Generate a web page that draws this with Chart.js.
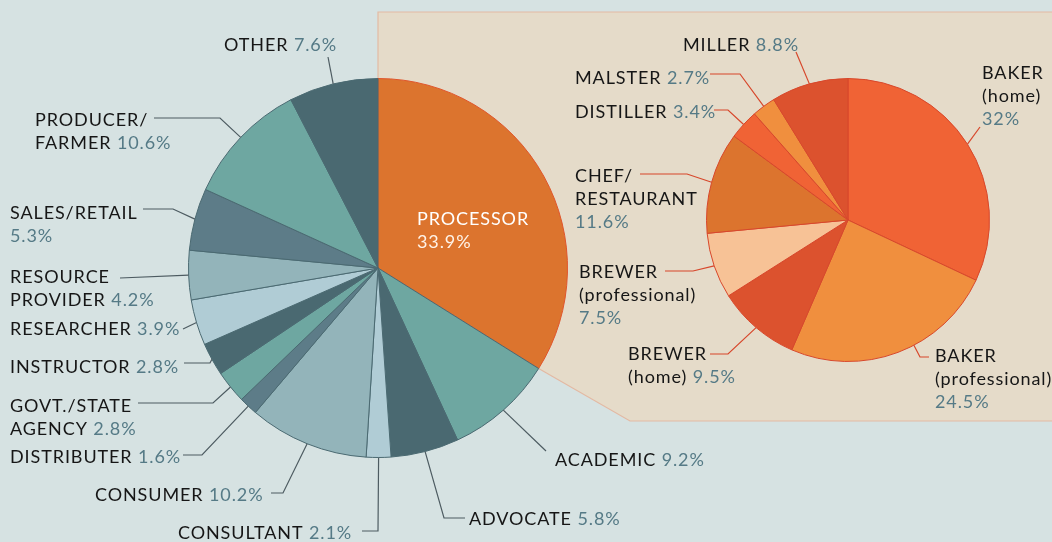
<!DOCTYPE html>
<html>
<head>
<meta charset="utf-8">
<script src="https://cdn.jsdelivr.net/npm/chart.js@4.4.1/dist/chart.umd.min.js"></script>
<style>
  html, body { margin:0; padding:0; background:#d6e2e2; }
  #wrap { position:relative; width:1052px; height:542px; overflow:hidden; }
  #wrap canvas { position:absolute; left:0; top:0; }
</style>
</head>
<body>
<div id="wrap">
  <canvas id="mainPie" width="1052" height="542"></canvas>
  <canvas id="subPie" width="1052" height="542"></canvas>
</div>
<script>
// main pie: who answered
const mainLabels = ["PROCESSOR", "ACADEMIC", "ADVOCATE", "CONSULTANT", "CONSUMER", "DISTRIBUTER",
  "GOVT./STATE\nAGENCY", "INSTRUCTOR", "RESEARCHER", "RESOURCE\nPROVIDER", "SALES/RETAIL", "PRODUCER/\nFARMER", "OTHER"];
const mainValues = [33.9, 9.2, 5.8, 2.1, 10.2, 1.6, 2.8, 2.8, 3.9, 4.2, 5.3, 10.6, 7.6];
const mainValueText = ["33.9%", "9.2%", "5.8%", "2.1%", "10.2%", "1.6%", "2.8%", "2.8%", "3.9%", "4.2%", "5.3%", "10.6%", "7.6%"];
const mainColors = ["#dc742e", "#6ea7a1", "#4a6971", "#b0ccd5", "#93b4ba", "#5d7c88",
  "#6ea7a1", "#4a6971", "#b0ccd5", "#93b4ba", "#5d7c88", "#6ea7a1", "#4a6971"];

// breakdown of processors
const subLabels = ["BAKER\n(home)", "BAKER\n(professional)", "BREWER\n(home)", "BREWER\n(professional)",
  "CHEF/\nRESTAURANT", "DISTILLER", "MALSTER", "MILLER"];
const subValues = [32, 24.5, 9.5, 7.5, 11.6, 3.4, 2.7, 8.8];
const subValueText = ["32%", "24.5%", "9.5%", "7.5%", "11.6%", "3.4%", "2.7%", "8.8%"];
const subColors = ["#f06335", "#f08f3e", "#dc522e", "#f7c296", "#dc742e", "#f06335", "#f08f3e", "#dc522e"];

// where each label sits: text origin, line break before value, leader start + elbow
const mainLayout = [
  {x:417, y:225, own:true, inside:true},
  {x:555, y:466, from:[546,451]},
  {x:469, y:525, from:[465,518], elbow:[444,518]},
  {x:178, y:539, from:[362,531], elbow:[378,531]},
  {x:95,  y:501, from:[271,493], elbow:[283,493]},
  {x:10,  y:463, from:[183,455], elbow:[202,455]},
  {x:10,  y:412, from:[138,403], elbow:[213,403]},
  {x:10,  y:373, from:[184,363], elbow:[210,363]},
  {x:10,  y:335, from:[183,329]},
  {x:10,  y:283, from:[120,278]},
  {x:10,  y:219, own:true, from:[143,209], elbow:[173,209]},
  {x:35,  y:126, from:[154,118], elbow:[220,118]},
  {x:224, y:51,  from:[328,57]}
];
const subLayout = [
  {x:982, y:79,  own:true, from:[980,127]},
  {x:935, y:362, own:true, from:[929,357], elbow:[920,357], at:0.42},
  {x:628, y:360, from:[710,354], elbow:[728,354]},
  {x:579, y:278, own:true, from:[665,271], elbow:[693,271]},
  {x:575, y:182, own:true, from:[640,174], elbow:[687,174]},
  {x:575, y:118, from:[714,110], elbow:[728,110]},
  {x:575, y:84,  from:[710,74], elbow:[740,74]},
  {x:683, y:51,  from:[796,52]}
];

const FONT = "18px Lato";
const LH = 23;
const NAME_COL = "#161616";
const VAL_COL = "#557a86";

function edgePoint(arc, at) {
  const a = arc.startAngle + (arc.endAngle - arc.startAngle) * (at == null ? 0.5 : at);
  return [arc.x + arc.outerRadius * Math.cos(a), arc.y + arc.outerRadius * Math.sin(a)];
}

function labelPlugin(names, vals, layout, lineCol) {
  return {
    id: 'labels',
    afterDraw(chart) {
      const ctx = chart.ctx;
      const arcs = chart.getDatasetMeta(0).data;
      ctx.save();
      ctx.font = FONT;
      ctx.letterSpacing = "0.9px";
      ctx.textBaseline = 'alphabetic';
      ctx.textAlign = 'left';
      for (let i = 0; i < names.length; i++) {
        const L = layout[i];
        const lines = names[i].split("\n");
        let y = L.y;
        for (let j = 0; j < lines.length; j++) {
          ctx.fillStyle = L.inside ? "#ffffff" : NAME_COL;
          ctx.fillText(lines[j], L.x, y);
          if (j == lines.length - 1 && !L.own) {
            const w = ctx.measureText(lines[j] + " ").width;
            ctx.fillStyle = L.inside ? "#ffffff" : VAL_COL;
            ctx.fillText(vals[i], L.x + w, y);
          }
          y += LH;
        }
        if (L.own) {
          ctx.fillStyle = L.inside ? "#fff3e8" : VAL_COL;
          ctx.fillText(vals[i], L.x, y);
        }
        if (L.from) {
          const p = edgePoint(arcs[i], L.at);
          ctx.strokeStyle = lineCol;
          ctx.lineWidth = 1.2;
          ctx.beginPath();
          ctx.moveTo(L.from[0], L.from[1]);
          if (L.elbow) ctx.lineTo(L.elbow[0], L.elbow[1]);
          ctx.lineTo(p[0], p[1]);
          ctx.stroke();
        }
      }
      ctx.restore();
    }
  };
}

// beige panel behind the processor slice, joined to it
const panelPlugin = {
  id: 'panel',
  beforeDatasetsDraw(chart) {
    const ctx = chart.ctx;
    const arc = chart.getDatasetMeta(0).data[0];
    const top = edgePoint(arc, 0);
    const end = edgePoint(arc, 1);
    ctx.save();
    ctx.fillStyle = "#e5dbc9";
    ctx.strokeStyle = "#e3b9a3";
    ctx.lineWidth = 1.2;
    ctx.beginPath();
    ctx.moveTo(top[0], top[1]);
    ctx.lineTo(top[0], 12);
    ctx.lineTo(1060, 12);
    ctx.lineTo(1060, 421);
    ctx.lineTo(630, 421);
    ctx.lineTo(end[0], end[1]);
    ctx.lineTo(arc.x, arc.y);
    ctx.closePath();
    ctx.fill();
    ctx.beginPath();
    ctx.moveTo(top[0], top[1]);
    ctx.lineTo(top[0], 12);
    ctx.lineTo(1060, 12);
    ctx.moveTo(1060, 421);
    ctx.lineTo(630, 421);
    ctx.lineTo(end[0], end[1]);
    ctx.stroke();
    ctx.restore();
  }
};

const mainBorders = mainColors.map((c, i) => i == 0 ? "#e0552b" : "#4a6971");

new Chart(document.getElementById("mainPie"), {
  type: 'pie',
  data: {
    labels: mainLabels,
    datasets: [{
      data: mainValues,
      backgroundColor: mainColors,
      borderColor: mainBorders,
      borderWidth: 1,
      hoverOffset: 0
    }]
  },
  options: {
    responsive: false,
    animation: false,
    events: [],
    layout: { padding: { left: 188, right: 484, top: 78, bottom: 84 } },
    plugins: { legend: { display: false }, tooltip: { enabled: false } }
  },
  plugins: [panelPlugin, labelPlugin(mainLabels, mainValueText, mainLayout, "#4d5b61")]
});

new Chart(document.getElementById("subPie"), {
  type: 'pie',
  data: {
    labels: subLabels,
    datasets: [{
      data: subValues,
      backgroundColor: subColors,
      borderColor: "#d7472b",
      borderWidth: 1,
      hoverOffset: 0
    }]
  },
  options: {
    responsive: false,
    animation: false,
    events: [],
    layout: { padding: { left: 706, right: 62, top: 78, bottom: 180 } },
    plugins: { legend: { display: false }, tooltip: { enabled: false } }
  },
  plugins: [labelPlugin(subLabels, subValueText, subLayout, "#d7472b")]
});
</script>
</body>
</html>
